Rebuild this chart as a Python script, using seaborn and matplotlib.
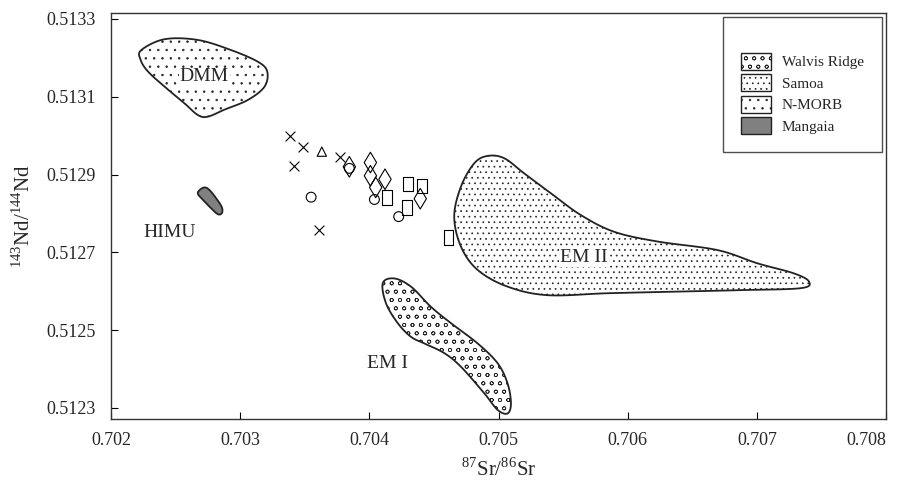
import numpy as np
import pandas as pd
import seaborn as sns
import matplotlib.pyplot as plt
from matplotlib.patches import Polygon, Patch

# sample points (87Sr/86Sr, 143Nd/144Nd)
x_sr = [0.703387, 0.703485, 0.703415, 0.703776, 0.703613]
x_nd = [0.512999, 0.512971, 0.512923, 0.512946, 0.512758]
tri_sr = [0.703632]
tri_nd = [0.512959]
circ_sr = [0.703845, 0.703549, 0.704039, 0.704227]
circ_nd = [0.512916, 0.512842, 0.512836, 0.512792]
diam_sr = [0.703845, 0.704008, 0.704008, 0.704121, 0.704049, 0.704394]
diam_nd = [0.512920, 0.512931, 0.512897, 0.512888, 0.512867, 0.512838]
sq_sr = [0.704297, 0.704408, 0.704137, 0.704289, 0.704614]
sq_nd = [0.512876, 0.512871, 0.512841, 0.512816, 0.512738]

# field outlines
dmm_sr = [0.702234, 0.702415, 0.702673, 0.702930, 0.703137, 0.703209, 0.703188, 0.703060,
          0.702879, 0.702750, 0.702673, 0.702569, 0.702415, 0.702286, 0.702229]
dmm_nd = [0.513220, 0.513248, 0.513246, 0.513220, 0.513190, 0.513165, 0.513126, 0.513092,
          0.513067, 0.513049, 0.513053, 0.513083, 0.513126, 0.513165, 0.513195]
em1_sr = [0.704104, 0.704193, 0.704322, 0.704477, 0.704632, 0.704838, 0.704993, 0.705070, 0.705096,
          0.705070, 0.704993, 0.704889, 0.704709, 0.704580, 0.704425, 0.704322, 0.704220, 0.704129]
em1_nd = [0.512621, 0.512633, 0.512612, 0.512560, 0.512518, 0.512466, 0.512415, 0.512363, 0.512312,
          0.512286, 0.512295, 0.512338, 0.512406, 0.512441, 0.512466, 0.512483, 0.512518, 0.512569]
em2_sr = [0.704916, 0.704812, 0.704709, 0.704657, 0.704709, 0.704838, 0.705070, 0.705380, 0.705844,
          0.706359, 0.706875, 0.707339, 0.707403, 0.707287, 0.707004, 0.706694, 0.706230, 0.705895,
          0.705637, 0.705405, 0.705199, 0.705044]
em2_nd = [0.512948, 0.512929, 0.512869, 0.512792, 0.512715, 0.512655, 0.512612, 0.512590, 0.512595,
          0.512599, 0.512603, 0.512608, 0.512625, 0.512646, 0.512672, 0.512706, 0.512728, 0.512753,
          0.512796, 0.512852, 0.512903, 0.512942]
mang_sr = [0.702685, 0.702724, 0.702763, 0.702814, 0.702858, 0.702858, 0.702828, 0.702776, 0.702712, 0.702673]
mang_nd = [0.512860, 0.512867, 0.512860, 0.512839, 0.512816, 0.512801, 0.512798, 0.512813, 0.512835, 0.512850]

legend_names = ['Walvis Ridge', 'Samoa', 'N-MORB', 'Mangaia']
x_ticks = [0.702, 0.703, 0.704, 0.705, 0.706, 0.707, 0.708]
y_ticks = [0.5123, 0.5125, 0.5127, 0.5129, 0.5131, 0.5133]


def smooth_closed(xs, ys, n=20):
    # closed catmull-rom curve through outline vertices
    p = np.column_stack([xs, ys])
    out = []
    m = len(p)
    for i in range(m):
        p0, p1, p2, p3 = p[i - 1], p[i], p[(i + 1) % m], p[(i + 2) % m]
        t = np.linspace(0, 1, n, endpoint=False)[:, None]
        out.append(0.5 * ((2 * p1) + (-p0 + p2) * t + (2 * p0 - 5 * p1 + 4 * p2 - p3) * t ** 2
                          + (-p0 + 3 * p1 - 3 * p2 + p3) * t ** 3))
    return np.vstack(out)


sns.set_style('white')
plt.rcParams['font.family'] = ['Liberation Serif', 'DejaVu Serif']
plt.rcParams['mathtext.fontset'] = 'custom'
plt.rcParams['mathtext.rm'] = 'Liberation Serif'
plt.rcParams['hatch.linewidth'] = 0.5

hatch_walvis = 'oo'
hatch_samoa = '...'
hatch_morb = '..'

fig = plt.figure(figsize=(9.02, 4.83), dpi=100)
ax = fig.add_axes([0.1231, 0.1325, 0.9823 - 0.1231, 0.9731 - 0.1325])

fields = [(dmm_sr, dmm_nd, 'white', hatch_morb), (em1_sr, em1_nd, 'white', hatch_walvis),
          (em2_sr, em2_nd, 'white', hatch_samoa), (mang_sr, mang_nd, '#808080', None)]
for fx, fy, fc, h in fields:
    pts = smooth_closed(fx, fy)
    ax.add_patch(Polygon(pts, closed=True, facecolor=fc, edgecolor='#222222',
                         hatch=h, linewidth=1.3, zorder=2))

pts_df = pd.DataFrame({'sr': x_sr, 'nd': x_nd})
sns.scatterplot(data=pts_df, x='sr', y='nd', marker='x', color='black', s=50,
                linewidth=0.8, ax=ax, zorder=3)
rect = [(-0.33, -0.5), (0.33, -0.5), (0.33, 0.5), (-0.33, 0.5), (-0.33, -0.5)]
open_sets = [(tri_sr, tri_nd, '^', 45), (circ_sr, circ_nd, 'o', 50),
             (diam_sr, diam_nd, 'd', 110), (sq_sr, sq_nd, rect, 110)]
for sx, sy, mk, sz in open_sets:
    sns.scatterplot(x=sx, y=sy, marker=mk, s=sz, facecolor='none', edgecolor='black',
                    linewidth=0.8, ax=ax, zorder=3)

ax.text(0.702722, 0.513151, 'DMM', fontsize=14, ha='center', va='center', zorder=4,
        bbox=dict(facecolor='white', edgecolor='none', pad=0.5))
ax.text(0.702451, 0.512752, 'HIMU', fontsize=14, ha='center', va='center')
ax.text(0.704137, 0.512415, 'EM I', fontsize=14, ha='center', va='center')
ax.text(0.705661, 0.512686, 'EM II', fontsize=14, ha='center', va='center', zorder=4,
        bbox=dict(facecolor='white', edgecolor='none', pad=0.5))

ax.set_xlim(0.702, 0.708)
ax.set_ylim(0.5122717, 0.5133154)
ax.set_xticks(x_ticks)
ax.set_xticklabels([f'{v:.3f}' for v in x_ticks])
ax.set_yticks(y_ticks)
ax.set_yticklabels([f'{v:.4f}' for v in y_ticks])
ax.tick_params(direction='in', length=5, labelsize=13, color='black', width=0.8,
               bottom=True, left=True, top=False, right=False)
ax.tick_params(axis='y', pad=11)
ax.tick_params(axis='x', pad=9)
ax.get_xticklabels()[-1].set_horizontalalignment('right')
for sp in ax.spines.values():
    sp.set_color('#333333')
    sp.set_linewidth(1.0)
ax.set_xlabel(r'$^{87}$Sr/$^{86}$Sr', fontsize=15, labelpad=7)
ax.set_ylabel(r'$^{143}$Nd/$^{144}$Nd', fontsize=15, labelpad=8)

handles = [Patch(facecolor='white', edgecolor='#222222', hatch=hatch_walvis, label=legend_names[0]),
           Patch(facecolor='white', edgecolor='#222222', hatch=hatch_samoa, label=legend_names[1]),
           Patch(facecolor='white', edgecolor='#222222', hatch=hatch_morb, label=legend_names[2]),
           Patch(facecolor='#808080', edgecolor='#222222', label=legend_names[3])]
leg = ax.legend(handles=handles, loc='upper right', bbox_to_anchor=(0.995, 0.99),
                fontsize=11, frameon=True, fancybox=False, edgecolor='#222222',
                title=' ', title_fontsize=11,
                borderpad=1.2, handlelength=1.95, handleheight=1.35, labelspacing=0.28,
                handletextpad=0.7, borderaxespad=0)
leg.get_frame().set_linewidth(1.0)

fig.savefig('out.png', dpi=100)
